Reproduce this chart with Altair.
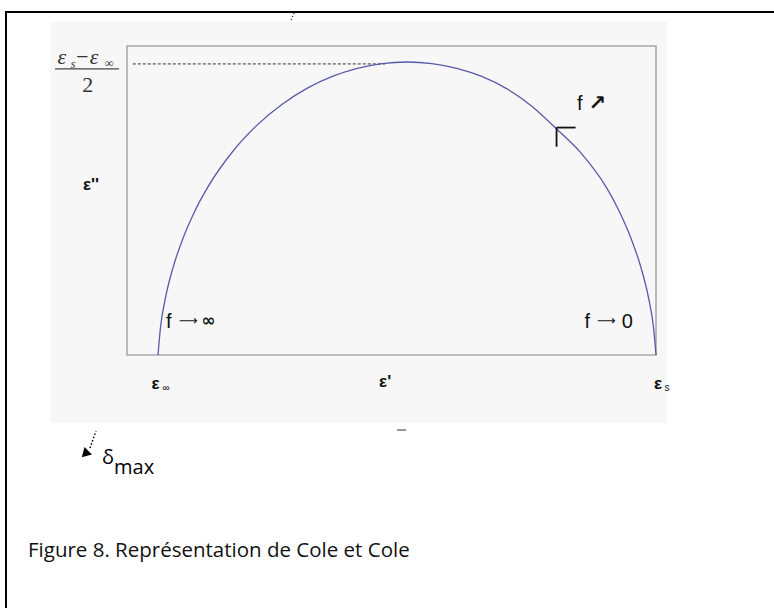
import altair as alt
import pandas as pd

# Cole-Cole arc: ε' (real part) and ε'' (imaginary part), arbitrary units.
# The plot frame spans 0–100 on both axes.
eps_real = [5.86, 6.33, 7.28, 8.70, 10.59, 12.93, 15.27, 19.98, 24.69, 29.40,
            34.10, 38.81, 43.52, 48.22, 52.93, 57.64, 62.34, 67.05, 71.76, 76.47,
            81.17, 85.88, 90.59, 92.93, 95.27, 97.16, 98.58, 99.53, 100.0]
eps_imag = [0.0, 8.89, 18.58, 28.30, 37.78, 46.93, 54.31, 65.85, 74.55, 81.24,
            86.36, 90.15, 92.77, 94.32, 94.82, 94.32, 92.77, 90.15, 86.20, 80.60,
            73.20, 65.24, 54.31, 46.93, 37.78, 28.30, 18.58, 8.89, 0.0]

# Characteristic points on the ε' axis
eps_inf = 5.9     # ε∞ (high-frequency limit)
eps_s = 100.0     # εs (static permittivity)
eps_peak = 48.8   # ε' at the top of the arc
peak_height = 94.2

W, H = 529, 309
curve = pd.DataFrame({"er": eps_real, "ei": eps_imag, "k": range(len(eps_real))})
one = pd.DataFrame({"a": [0]})

xs = alt.Scale(domain=[0, 100])
ys = alt.Scale(domain=[0, 100])
X = lambda f: alt.X(f, type="quantitative", scale=xs, axis=None)
Y = lambda f: alt.Y(f, type="quantitative", scale=ys, axis=None)

# page frame and grey figure panel
page = alt.Chart(one).mark_rect(fill="white", stroke="black", strokeWidth=2).encode(
    x=alt.value(-121), x2=alt.value(720), y=alt.value(-34), y2=alt.value(640))
panel = alt.Chart(one).mark_rect(fill="#f7f7f7").encode(
    x=alt.value(-77), x2=alt.value(540), y=alt.value(-24), y2=alt.value(377))
frame = alt.Chart(one).mark_rect(fill=None, stroke="#a9a9a9", strokeWidth=1.6).encode(
    x=alt.value(0), x2=alt.value(W), y=alt.value(0), y2=alt.value(H))

# dashed guide at the arc maximum
guide = alt.Chart(pd.DataFrame({"x0": [1.1], "x1": [eps_peak], "y": [peak_height]})).mark_rule(
    strokeDash=[3, 2], color="#333333", strokeWidth=1).encode(
    x=X("x0"), x2="x1", y=Y("y"))

arc = alt.Chart(curve).mark_line(color="#5959aa", strokeWidth=1.3, interpolate="monotone").encode(
    x=X("er"), y=Y("ei"), order="k")

# corner marker on the arc
mk_h = alt.Chart(pd.DataFrame({"x0": [81.2], "x1": [84.8], "y": [73.6]})).mark_rule(
    color="#111111", strokeWidth=1.8).encode(x=X("x0"), x2="x1", y=Y("y"))
mk_v = alt.Chart(pd.DataFrame({"x": [81.2], "y0": [73.6], "y1": [67.4]})).mark_rule(
    color="#111111", strokeWidth=1.8).encode(x=X("x"), y=Y("y0"), y2="y1")


def texts(rows, size, font="Liberation Sans", style="normal", color="#111111",
          align="center", baseline="middle", weight="normal"):
    df = pd.DataFrame(rows, columns=["x", "y", "t"])
    return alt.Chart(df).mark_text(
        font=font, fontSize=size, fontStyle=style, color=color, align=align,
        baseline=baseline, fontWeight=weight).encode(x=X("x"), y=Y("y"), text="t")


# frequency annotations
freq_f = texts([[7.9, 10.7, "f"], [87.0, 10.7, "f"], [85.6, 81.2, "f"]], 20)
freq_arrows = texts([[11.6, 10.9, "⟶"], [90.6, 10.9, "⟶"]], 13, font="DejaVu Sans")
freq_lim = texts([[15.4, 10.9, "∞"]], 17, font="DejaVu Sans", weight="bold")
freq_zero = texts([[94.6, 10.7, "0"]], 20)
f_arrow = texts([[88.9, 81.3, "↗"]], 21, font="DejaVu Sans", weight="bold")

# axis labels ε∞, ε', εs
ax_main = texts([[eps_inf - 0.5, -9.3, "ε"], [eps_peak, -8.6, "ε'"], [eps_s + 0.4, -9.3, "ε"]], 17,
                weight="bold")
ax_sub = texts([[eps_inf + 1.5, -10.6, "∞"], [eps_s + 2.1, -10.6, "s"]], 10)
y_lab = texts([[-6.8, 55.0, "ε''"]], 17, weight="bold")

# (εs − ε∞)/2 label at the top of the ε'' axis
serif = "Liberation Serif"
frac_main = texts([[-12.3, 96.4, "ε"], [-8.5, 96.4, "−"], [-6.2, 96.4, "ε"]], 22,
                  font=serif, style="italic", color="#333333")
frac_sub = texts([[-10.2, 94.3, "s"], [-3.4, 94.6, "∞"]], 12,
                 font=serif, style="italic", color="#333333")
frac_bar = alt.Chart(pd.DataFrame({"x0": [-13.6], "x1": [-1.5], "y": [92.6]})).mark_rule(
    color="#444444", strokeWidth=1.4).encode(x=X("x0"), x2="x1", y=Y("y"))
frac_two = texts([[-7.4, 87.4, "2"]], 22, font=serif, color="#333333")

# elements below the figure
delta_arrow = alt.Chart(one).mark_point(shape="triangle-left", filled=True, color="black",
                                        size=110, angle=315, opacity=1).encode(
    x=alt.value(-42), y=alt.value(408))
delta_dots = alt.Chart(one).mark_rule(color="black", strokeDash=[1.5, 2], strokeWidth=1.5).encode(
    x=alt.value(-37), x2=alt.value(-31), y=alt.value(402), y2=alt.value(385))
delta = alt.Chart(one).mark_text(text="δ", font="Open Sans", fontSize=20, align="left",
                                 baseline="alphabetic", color="black").encode(
    x=alt.value(-25), y=alt.value(418))
delta_sub = alt.Chart(one).mark_text(text="max", font="Open Sans", fontSize=20, align="left",
                                     baseline="alphabetic", color="black").encode(
    x=alt.value(-13), y=alt.value(428))
caption = alt.Chart(one).mark_text(text="Figure 8. Représentation de Cole et Cole",
                                   font="Open Sans", fontSize=20.5, align="left",
                                   baseline="alphabetic", color="#111111").encode(
    x=alt.value(-99), y=alt.value(511))

# stray marks
dots = alt.Chart(one).mark_rule(color="#333333", strokeDash=[1.2, 2], strokeWidth=1.3).encode(
    x=alt.value(167), x2=alt.value(164), y=alt.value(-33), y2=alt.value(-26))
dash = alt.Chart(one).mark_rule(color="#333333", strokeWidth=1).encode(
    x=alt.value(270), x2=alt.value(279), y=alt.value(384))

chart = alt.layer(
    page, panel, frame, guide, arc, mk_h, mk_v, freq_f, freq_arrows, freq_lim, freq_zero,
    f_arrow, ax_main, ax_sub, y_lab, frac_main, frac_sub, frac_bar, frac_two,
    delta_arrow, delta_dots, delta, delta_sub, caption, dots, dash
).properties(
    width=W, height=H,
    autosize=alt.AutoSizeParams(type="none"),
    padding={"left": 127, "top": 46, "right": 118, "bottom": 253},
    background="white",
).configure_view(stroke=None)

chart.save("out.html", embed_options={"renderer": "svg", "actions": False})
